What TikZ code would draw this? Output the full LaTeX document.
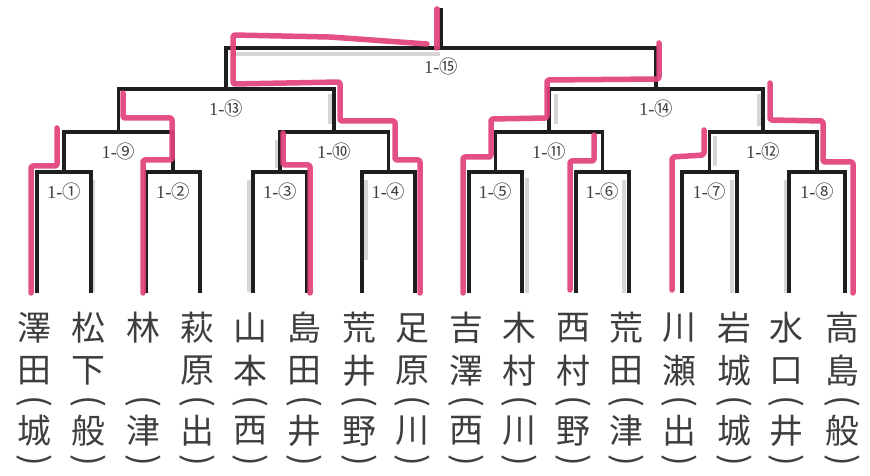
\documentclass[tikz,border=0pt]{standalone}
\usepackage{fontspec}
\setmainfont{Liberation Serif}
\newfontfamily\jp{Noto Sans CJK JP}
\definecolor{hl}{HTML}{E2427C}
\definecolor{ink}{HTML}{1E1E1E}
\definecolor{pencil}{HTML}{3E3E3E}
\begin{document}
\begin{tikzpicture}[x=1bp,y=-1bp,
  br/.style={draw=ink,line width=3.2bp},
  win/.style={draw=hl,line width=5.5bp,line cap=round,line join=round,rounded corners=2bp,opacity=.92},
  shade/.style={draw=gray!45,line width=4bp,opacity=.7},
  nm/.style={font=\jp\fontsize{34}{34}\selectfont,text=pencil,inner sep=0pt},
  par/.style={font=\jp\fontsize{35}{35}\selectfont,text=pencil,inner sep=0pt,rotate=-90},
  lab/.style={font=\fontsize{18.5}{18.5}\selectfont,text=ink!85,inner sep=1pt}]
\useasboundingbox (0,0) rectangle (870,476);
\fill[white] (0,0) rectangle (870,476);
% leaf bottoms
\foreach \i/\x in {1/37,2/91,3/146,4/200,5/253,6/307,7/362,8/415,9/469,10/522,11/576,12/629,13/682,14/737,15/789,16/845}{
  \coordinate (b\i) at (\x,293);
}
% match points
\coordinate (m1) at (64,172);   \coordinate (m2) at (173,172);
\coordinate (m3) at (280,172);  \coordinate (m4) at (388.5,172);
\coordinate (m5) at (495.5,172);\coordinate (m6) at (602.5,172);
\coordinate (m7) at (709.5,172);\coordinate (m8) at (817,172);
\coordinate (m9) at (118.5,132);\coordinate (m10) at (334,132);
\coordinate (m11) at (549,132); \coordinate (m12) at (763,132);
\coordinate (m13) at (226,89);  \coordinate (m14) at (656,89);
\coordinate (m15) at (441,48);  \coordinate (top) at (441,8);
% pencil shading
\draw[shade] (232,54) -- (440,54);
\draw[shade] (93,180) -- (93,292);
\draw[shade] (249,180) -- (249,292);
\draw[shade] (366,180) -- (366,260);
\draw[shade] (277,140) -- (277,168);
\draw[shade] (330,94) -- (330,124);
\draw[shade] (556,94) -- (556,124);
\draw[shade] (759,94) -- (759,126);
\draw[shade] (527,178) -- (527,293);
\draw[shade] (624,180) -- (624,293);
\draw[shade] (715,136) -- (715,166);
\draw[shade] (732,180) -- (732,293);
\draw[shade] (786,180) -- (786,293);
% bracket
\draw[br] (b1) |- (m1) -| (b2);
\draw[br] (b3) |- (m2) -| (b4);
\draw[br] (b5) |- (m3) -| (b6);
\draw[br] (b7) |- (m4) -| (b8);
\draw[br] (b9) |- (m5) -| (b10);
\draw[br] (b11) |- (m6) -| (b12);
\draw[br] (b13) |- (m7) -| (b14);
\draw[br] (b15) |- (m8) -| (b16);
\draw[br] (m1) |- (m9) -| (m2);
\draw[br] (m3) |- (m10) -| (m4);
\draw[br] (m5) |- (m11) -| (m6);
\draw[br] (m7) |- (m12) -| (m8);
\draw[br] (m9) |- (m13) -| (m10);
\draw[br] (m11) |- (m14) -| (m12);
\draw[br] (m13) |- (m15) -| (m14);
\draw[br] (m15) -- (top);
% winner highlights
\draw[win] (31,293) -- (31,166) -- (57,166) -- (57,128);
\draw[win] (143,293) -- (143,160) -- (172,160) -- (172,118) -- (123,118) -- (123,93);
\draw[win] (310,293) -- (310,165) -- (283,165) -- (283,133);
\draw[win] (420,293) -- (420,160) -- (395,160) -- (395,121) -- (340,121) -- (340,82) -- (233,84) -- (233,35) -- (330,37) -- (427,44);
\draw[win] (437,9) -- (437,48);
\draw[win] (463,293) -- (463,157) -- (491,157) -- (491,119) -- (547,118) -- (547,80) -- (659,79) -- (659,43);
\draw[win] (570,290) -- (570,161) -- (594,161) -- (594,135);
\draw[win] (672,290) -- (672,157) -- (704,155) -- (704,130);
\draw[win] (853,293) -- (853,162) -- (823,162) -- (823,121) -- (770,120) -- (770,83);
% match labels
\foreach \i/\c in {1/①,2/②,3/③,4/④,5/⑤,6/⑥,7/⑦,8/⑧,9/⑨,10/⑩,11/⑪,12/⑫,13/⑬,14/⑭,15/⑮}{
  \node[lab] (l\i) at ([yshift=-19bp]m\i) {1-{\jp\c}};
}
% player names (vertical)
\foreach \i/\x/\a/\b/\c in {1/37/澤/田/城,2/91/松/下/般,3/146/林/{}/津,4/200/萩/原/出,5/253/山/本/西,6/307/島/田/井,7/362/荒/井/野,8/415/足/原/川,9/469/吉/澤/西,10/522/木/村/川,11/576/西/村/野,12/629/荒/田/津,13/682/川/瀬/出,14/737/岩/城/城,15/789/水/口/井,16/845/高/島/般}{
  \node[nm] (n\i a) at (\x-3,328) {\a};
  \node[nm] (n\i b) at (\x-3,371) {\b};
  \node[par] (n\i p) at (\x-3,401) {(};
  \node[nm] (n\i c) at (\x-3,431) {\c};
  \node[par] (n\i q) at (\x-3,460) {)};
}
\end{tikzpicture}
\end{document}
